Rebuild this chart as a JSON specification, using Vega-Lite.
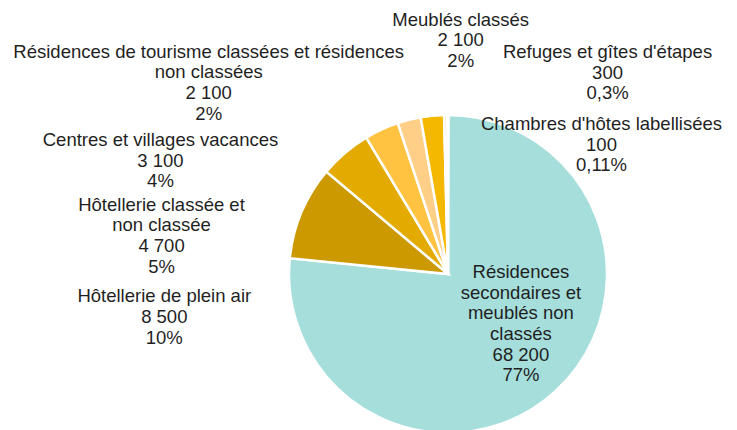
{
  "$schema": "https://vega.github.io/schema/vega-lite/v6.json",
  "width": 318,
  "height": 312,
  "autosize": {"type": "none"},
  "padding": {"left": 289, "top": 118, "right": 130, "bottom": 0},
  "background": "white",
  "config": {
    "view": {"stroke": null},
    "locale": {"number": {"decimal": ",", "thousands": " ", "grouping": [3], "currency": ["", " €"]}},
    "text": {"font": "Liberation Sans", "fontSize": 18.5, "lineHeight": 20.6, "color": "#1F1F1F", "align": "center", "baseline": "middle", "lineBreak": "\n"}
  },
  "data": {
    "values": [
      {"ordre": 1, "categorie": "Résidences secondaires et meublés non classés", "libelle": "Résidences\nsecondaires et\nmeublés  non\nclassés", "valeur": 68200, "part": 77},
      {"ordre": 2, "categorie": "Hôtellerie de plein air", "libelle": "Hôtellerie de plein air", "valeur": 8500, "part": 10},
      {"ordre": 3, "categorie": "Hôtellerie classée et non classée", "libelle": "Hôtellerie classée et\nnon classée", "valeur": 4700, "part": 5},
      {"ordre": 4, "categorie": "Centres et villages vacances", "libelle": "Centres et villages vacances", "valeur": 3100, "part": 4},
      {"ordre": 5, "categorie": "Résidences de tourisme classées et résidences non classées", "libelle": "Résidences de tourisme classées et résidences\nnon classées", "valeur": 2100, "part": 2},
      {"ordre": 6, "categorie": "Meublés classés", "libelle": "Meublés classés", "valeur": 2100, "part": 2},
      {"ordre": 7, "categorie": "Refuges et gîtes d'étapes", "libelle": "Refuges et gîtes d'étapes", "valeur": 300, "part": 0.3},
      {"ordre": 8, "categorie": "Chambres d'hôtes labellisées", "libelle": "Chambres d'hôtes labellisées", "valeur": 100, "part": 0.11}
    ]
  },
  "transform": [
    {"stack": "valeur", "groupby": [], "sort": [{"field": "ordre", "order": "ascending"}], "as": ["debut", "fin"]},
    {"calculate": "(datum.debut + datum.fin) / 2", "as": "milieu"},
    {"calculate": "datum.libelle + '\\n' + format(datum.valeur, ',') + '\\n' + format(datum.part, '~g') + '%'", "as": "etiquette"}
  ],
  "layer": [
    {
      "mark": {"type": "arc", "radius": 159, "stroke": "white", "strokeWidth": 2.5},
      "encoding": {
        "theta": {"field": "debut", "type": "quantitative", "scale": {"nice": false, "zero": true}},
        "theta2": {"field": "fin"},
        "color": {
          "field": "categorie",
          "type": "nominal",
          "legend": null,
          "scale": {
            "domain": ["Résidences secondaires et meublés non classés", "Hôtellerie de plein air", "Hôtellerie classée et non classée", "Centres et villages vacances", "Résidences de tourisme classées et résidences non classées", "Meublés classés", "Refuges et gîtes d'étapes", "Chambres d'hôtes labellisées"],
            "range": ["#A5DEDB", "#CC9A00", "#E3AA00", "#FFC241", "#FFCF87", "#F5B800", "#FFE9A8", "#FFF5D6"]
          }
        }
      }
    },
    {
      "transform": [{"filter": "datum.ordre == 1"}],
      "mark": {"type": "text", "radius": 90, "dx": 12.5, "dy": -68.5},
      "encoding": {"theta": {"field": "milieu", "type": "quantitative"}, "text": {"field": "etiquette"}}
    },
    {
      "transform": [{"filter": "datum.ordre == 2"}],
      "mark": {"type": "text", "radius": 175, "dx": -122.5, "dy": 90.5},
      "encoding": {"theta": {"field": "milieu", "type": "quantitative"}, "text": {"field": "etiquette"}}
    },
    {
      "transform": [{"filter": "datum.ordre == 3"}],
      "mark": {"type": "text", "radius": 175, "dx": -173, "dy": 64},
      "encoding": {"theta": {"field": "milieu", "type": "quantitative"}, "text": {"field": "etiquette"}}
    },
    {
      "transform": [{"filter": "datum.ordre == 4"}],
      "mark": {"type": "text", "radius": 175, "dx": -214.5, "dy": 25},
      "encoding": {"theta": {"field": "milieu", "type": "quantitative"}, "text": {"field": "etiquette"}}
    },
    {
      "transform": [{"filter": "datum.ordre == 5"}],
      "mark": {"type": "text", "radius": 175, "dx": -196.5, "dy": -52.5},
      "encoding": {"theta": {"field": "milieu", "type": "quantitative"}, "text": {"field": "etiquette"}}
    },
    {
      "transform": [{"filter": "datum.ordre == 6"}],
      "mark": {"type": "text", "radius": 175, "dx": 30, "dy": -80},
      "encoding": {"theta": {"field": "milieu", "type": "quantitative"}, "text": {"field": "etiquette"}}
    },
    {
      "transform": [{"filter": "datum.ordre == 7"}],
      "mark": {"type": "text", "radius": 175, "dx": 162, "dy": -47},
      "encoding": {"theta": {"field": "milieu", "type": "quantitative"}, "text": {"field": "etiquette"}}
    },
    {
      "transform": [{"filter": "datum.ordre == 8"}],
      "mark": {"type": "text", "radius": 175, "dx": 153.5, "dy": 25},
      "encoding": {"theta": {"field": "milieu", "type": "quantitative"}, "text": {"field": "etiquette"}}
    }
  ]
}
